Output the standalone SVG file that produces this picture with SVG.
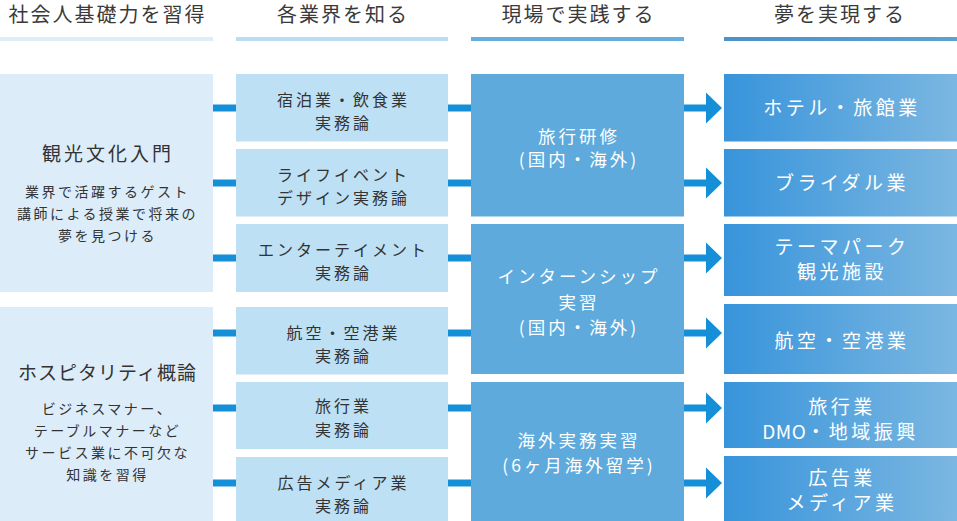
<svg xmlns="http://www.w3.org/2000/svg" width="957" height="521" viewBox="0 0 957 521">
<style>
text{font-family:"Noto Sans CJK JP","Noto Sans",sans-serif;text-anchor:middle}
.hd{font-size:20px;letter-spacing:2px;fill:#3a3a3a}
.t1{font-size:19px;letter-spacing:3px;fill:#333}
.t1n{font-size:19px;letter-spacing:1px;fill:#333}
.s1{font-size:14px;letter-spacing:2.5px;fill:#333}
.t2{font-size:16px;letter-spacing:3px;fill:#333}
.t3{font-size:17.5px;letter-spacing:3px;fill:#fff}
.t4{font-size:19px;letter-spacing:3.5px;fill:#fff}
.c1{fill:#dcedf9}
.c2{fill:#bde0f4}
.c3{fill:#5eaadc}
.c4{fill:url(#g4)}
.cn{fill:#1590d8}
</style>
<defs>
<linearGradient id="g4" x1="0" y1="0" x2="1" y2="0">
<stop offset="0" stop-color="#3894db"/>
<stop offset="1" stop-color="#7bb7e1"/>
</linearGradient>
<linearGradient id="gh" x1="0" y1="0" x2="1" y2="0">
<stop offset="0" stop-color="#4a92c8"/>
<stop offset="1" stop-color="#5da2d2"/>
</linearGradient>
</defs>
<rect width="957" height="521" fill="#fff"/>
<g id="headers">
<rect x="0" y="37" width="213" height="4" fill="#deeef9"/>
<rect x="236" y="37" width="212" height="4" fill="#bcdcf1"/>
<rect x="471" y="37" width="213" height="4" fill="#66aedd"/>
<rect x="724" y="37" width="233" height="4" fill="url(#gh)"/>
<text class="hd" x="107.5" y="21.5">社会人基礎力を習得</text>
<text class="hd" x="343" y="21.5">各業界を知る</text>
<text class="hd" x="578.5" y="21.5">現場で実践する</text>
<text class="hd" x="840" y="21.5">夢を実現する</text>
</g>
<g id="connectors">
<rect class="cn" x="213" y="104.5" width="23" height="7"/>
<rect class="cn" x="213" y="179.5" width="23" height="7"/>
<rect class="cn" x="213" y="254.5" width="23" height="7"/>
<rect class="cn" x="213" y="329.5" width="23" height="7"/>
<rect class="cn" x="213" y="404.5" width="23" height="7"/>
<rect class="cn" x="213" y="479.5" width="23" height="7"/>
<rect class="cn" x="448" y="104.5" width="23" height="7"/>
<rect class="cn" x="448" y="179.5" width="23" height="7"/>
<rect class="cn" x="448" y="254.5" width="23" height="7"/>
<rect class="cn" x="448" y="329.5" width="23" height="7"/>
<rect class="cn" x="448" y="404.5" width="23" height="7"/>
<rect class="cn" x="448" y="479.5" width="23" height="7"/>
<path class="cn" d="M684 104.5H706V92.5L722 108L706 123.5V111.5H684Z"/>
<path class="cn" d="M684 179.5H706V167.5L722 183L706 198.5V186.5H684Z"/>
<path class="cn" d="M684 254.5H706V242.5L722 258L706 273.5V261.5H684Z"/>
<path class="cn" d="M684 329.5H706V317.5L722 333L706 348.5V336.5H684Z"/>
<path class="cn" d="M684 404.5H706V392.5L722 408L706 423.5V411.5H684Z"/>
<path class="cn" d="M684 479.5H706V467.5L722 483L706 498.5V486.5H684Z"/>
</g>
<g id="n-kanko">
<rect class="c1" x="0" y="74" width="213" height="218"/>
<text class="t1" x="108" y="160.5">観光文化入門</text>
<text class="s1" x="107.5" y="197">業界で活躍するゲスト</text>
<text class="s1" x="107.5" y="219">講師による授業で将来の</text>
<text class="s1" x="107.5" y="241">夢を見つける</text>
</g>
<g id="n-hospitality">
<rect class="c1" x="0" y="307" width="213" height="220"/>
<text class="t1n" x="107.5" y="380">ホスピタリティ概論</text>
<text class="s1" x="107.5" y="414">ビジネスマナー、</text>
<text class="s1" x="107.5" y="436">テーブルマナーなど</text>
<text class="s1" x="107.5" y="458">サービス業に不可欠な</text>
<text class="s1" x="107.5" y="480">知識を習得</text>
</g>
<g id="n-shukuhaku">
<rect class="c2" x="236" y="74" width="212" height="67.5"/>
<text class="t2" x="343.5" y="106">宿泊業・飲食業</text>
<text class="t2" x="343.5" y="129">実務論</text>
</g>
<g id="n-lifeevent">
<rect class="c2" x="236" y="149" width="212" height="67.5"/>
<text class="t2" x="343.5" y="180.5">ライフイベント</text>
<text class="t2" x="343.5" y="204">デザイン実務論</text>
</g>
<g id="n-entertainment">
<rect class="c2" x="236" y="224" width="212" height="68"/>
<text class="t2" x="343.5" y="256">エンターテイメント</text>
<text class="t2" x="343.5" y="279">実務論</text>
</g>
<g id="n-koku">
<rect class="c2" x="236" y="307" width="212" height="67.5"/>
<text class="t2" x="343.5" y="338.5">航空・空港業</text>
<text class="t2" x="343.5" y="361.5">実務論</text>
</g>
<g id="n-ryoko">
<rect class="c2" x="236" y="382" width="212" height="67"/>
<text class="t2" x="343.5" y="411.5">旅行業</text>
<text class="t2" x="343.5" y="436">実務論</text>
</g>
<g id="n-kokoku">
<rect class="c2" x="236" y="457" width="212" height="68"/>
<text class="t2" x="343.5" y="488.5">広告メディア業</text>
<text class="t2" x="343.5" y="511.5">実務論</text>
</g>
<g id="n-kenshu">
<rect class="c3" x="471" y="74" width="213" height="142.5"/>
<text class="t3" x="579" y="143">旅行研修</text>
<text class="t3" x="579" y="166">(国内・海外)</text>
</g>
<g id="n-intern">
<rect class="c3" x="471" y="224" width="213" height="150"/>
<text class="t3" x="579" y="282.5">インターンシップ</text>
<text class="t3" x="579" y="308.5">実習</text>
<text class="t3" x="579" y="334">(国内・海外)</text>
</g>
<g id="n-kaigai">
<rect class="c3" x="471" y="382" width="213" height="145"/>
<text class="t3" x="579" y="446.5">海外実務実習</text>
<text class="t3" x="579" y="471.5">(6ヶ月海外留学)</text>
</g>
<g id="n-hotel">
<rect class="c4" x="724" y="74" width="233" height="67.5"/>
<text class="t4" x="842" y="115">ホテル・旅館業</text>
</g>
<g id="n-bridal">
<rect class="c4" x="724" y="149" width="233" height="67.5"/>
<text class="t4" x="842" y="190">ブライダル業</text>
</g>
<g id="n-themepark">
<rect class="c4" x="724" y="224" width="233" height="72"/>
<text class="t4" x="842" y="253.5">テーマパーク</text>
<text class="t4" x="842" y="278.5">観光施設</text>
</g>
<g id="n-koku2">
<rect class="c4" x="724" y="304" width="233" height="70"/>
<text class="t4" x="842" y="348">航空・空港業</text>
</g>
<g id="n-ryoko2">
<rect class="c4" x="724" y="382" width="233" height="66"/>
<text class="t4" x="842" y="414">旅行業</text>
<text class="t4" x="840.5" y="439"><tspan letter-spacing="0.5">DMO</tspan>・地域振興</text>
</g>
<g id="n-kokoku2">
<rect class="c4" x="724" y="456" width="233" height="70"/>
<text class="t4" x="842" y="484.5">広告業</text>
<text class="t4" x="842" y="509.5">メディア業</text>
</g>
</svg>
